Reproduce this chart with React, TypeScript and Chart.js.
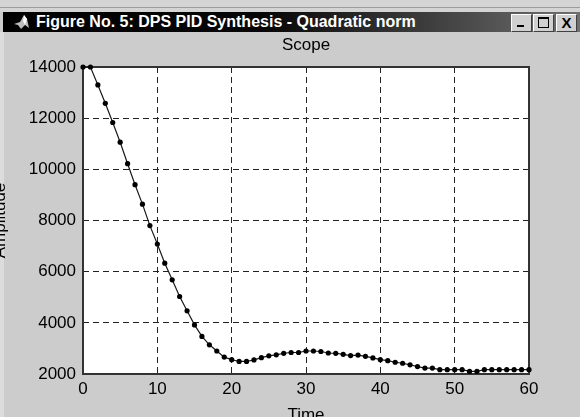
import React, { useEffect, useRef } from 'react';
import { Chart, registerables } from 'chart.js';

Chart.register(...registerables);

const windowTitle = 'Figure No. 5: DPS PID Synthesis - Quadratic norm';
const chartTitle = 'Scope';
const xAxisLabel = 'Time';
const yAxisLabel = 'Amplitude';

const timeValues = [
  0, 1, 2, 3, 4, 5, 6, 7, 8, 9,
  10, 11, 12, 13, 14, 15, 16, 17, 18, 19,
  20, 21, 22, 23, 24, 25, 26, 27, 28, 29,
  30, 31, 32, 33, 34, 35, 36, 37, 38, 39,
  40, 41, 42, 43, 44, 45, 46, 47, 48, 49,
  50, 51, 52, 53, 54, 55, 56, 57, 58, 59, 60,
];

const amplitudeValues = [
  14000, 14000, 13300, 12580, 11830, 11060, 10220, 9400, 8640, 7800,
  7080, 6330, 5680, 5030, 4470, 3920, 3470, 3140, 2900, 2660,
  2560, 2490, 2490, 2550, 2640, 2710, 2750, 2810, 2840, 2840,
  2900, 2900, 2880, 2820, 2810, 2770, 2720, 2740, 2690, 2630,
  2560, 2520, 2460, 2420, 2360, 2290, 2230, 2230, 2170, 2170,
  2170, 2170, 2100, 2100, 2170, 2170, 2170, 2170, 2170, 2170, 2170,
];

const xTickValues = [0, 10, 20, 30, 40, 50, 60];
const yTickValues = [2000, 4000, 6000, 8000, 10000, 12000, 14000];

const FONT = '"Liberation Sans", Arial, sans-serif';

const decorPlugin = {
  id: 'decor',
  beforeDraw(chart: any) {
    const { ctx, chartArea: a } = chart;
    ctx.save();
    ctx.fillStyle = '#ffffff';
    ctx.fillRect(a.left, a.top, a.right - a.left, a.bottom - a.top);
    ctx.restore();
  },
  beforeDatasetsDraw(chart: any) {
    const { ctx, chartArea: a } = chart;
    ctx.save();
    ctx.strokeStyle = '#333333';
    ctx.lineWidth = 2;
    ctx.strokeRect(a.left, a.top, a.right - a.left, a.bottom - a.top);
    ctx.restore();
  },
  afterDraw(chart: any) {
    const { ctx, chartArea: a } = chart;
    ctx.save();
    ctx.fillStyle = '#000000';
    ctx.font = `17px ${FONT}`;
    ctx.textAlign = 'center';
    ctx.textBaseline = 'middle';
    ctx.fillText(chartTitle, (a.left + a.right) / 2, a.top - 22);
    ctx.textBaseline = 'top';
    ctx.fillText(xAxisLabel, (a.left + a.right) / 2, a.bottom + 33);
    ctx.translate(5, (a.top + a.bottom) / 2);
    ctx.rotate(-Math.PI / 2);
    ctx.textBaseline = 'alphabetic';
    ctx.fillText(yAxisLabel, 0, 0);
    ctx.restore();
  },
};

function ScopeChart() {
  const ref = useRef<HTMLCanvasElement | null>(null);
  useEffect(() => {
    if (!ref.current) return;
    const chart = new Chart(ref.current, {
      type: 'line',
      data: {
        datasets: [
          {
            data: timeValues.map((t, i) => ({ x: t, y: amplitudeValues[i] })),
            borderColor: '#1a1a1a',
            borderWidth: 1.2,
            pointRadius: 2.6,
            pointBackgroundColor: '#000000',
            pointBorderColor: '#000000',
            pointBorderWidth: 0,
            tension: 0,
            fill: false,
            clip: false as any,
          },
        ],
      },
      options: {
        animation: false,
        responsive: false,
        devicePixelRatio: 1,
        events: [],
        layout: { padding: { top: 67, right: 51, bottom: 0, left: 0 } },
        plugins: {
          legend: { display: false },
          tooltip: { enabled: false },
          title: { display: false },
        },
        scales: {
          x: {
            type: 'linear',
            min: 0,
            max: 60,
            afterBuildTicks: (s: any) => {
              s.ticks = xTickValues.map((v) => ({ value: v }));
            },
            afterFit: (s: any) => {
              s.height = 43;
            },
            grid: { color: '#222222', lineWidth: 1, drawTicks: false },
            border: { display: false, dash: [6, 4] },
            ticks: {
              color: '#000000',
              font: { family: FONT, size: 17 },
              padding: 5,
              autoSkip: false,
              maxRotation: 0,
              callback: (v: any) => String(v),
            },
          },
          y: {
            type: 'linear',
            min: 2000,
            max: 14000,
            afterBuildTicks: (s: any) => {
              s.ticks = yTickValues.map((v) => ({ value: v }));
            },
            afterFit: (s: any) => {
              s.width = 83;
            },
            grid: { color: '#222222', lineWidth: 1, drawTicks: false },
            border: { display: false, dash: [6, 4] },
            ticks: {
              color: '#000000',
              font: { family: FONT, size: 17 },
              padding: 7,
              autoSkip: false,
              callback: (v: any) => String(v),
            },
          },
        },
      },
      plugins: [decorPlugin],
    } as any);
    return () => chart.destroy();
  }, []);
  return (
    <canvas
      ref={ref}
      width={580}
      height={417}
      style={{ position: 'absolute', left: 0, top: 0, width: 580, height: 417 }}
    />
  );
}

const btnStyle: React.CSSProperties = {
  position: 'absolute',
  top: 2,
  width: 19,
  height: 16,
  background: '#d0d0d0',
  borderTop: '1px solid #ffffff',
  borderLeft: '1px solid #ffffff',
  borderRight: '1px solid #404040',
  borderBottom: '1px solid #404040',
};

export default function App() {
  return (
    <div
      style={{
        position: 'fixed',
        left: 0,
        top: 0,
        width: 580,
        height: 417,
        background: '#cccccc',
        overflow: 'hidden',
      }}
    >
      <div style={{ position: 'absolute', left: 0, top: 0, width: 580, height: 12, background: '#d4d4d4' }} />
      <div style={{ position: 'absolute', left: 0, top: 7, width: 580, height: 1, background: '#9c9c9c' }} />
      <div style={{ position: 'absolute', left: 0, top: 32, width: 4, height: 385, background: '#dcdcdc' }} />
      <ScopeChart />
      <div
        style={{
          position: 'absolute',
          left: 3,
          top: 12,
          width: 577,
          height: 20,
          background: 'linear-gradient(to right, #000000 0%, #060606 45%, #707070 100%)',
        }}
      >
        <svg width="20" height="18" style={{ position: 'absolute', left: 9, top: 1 }}>
          <path d="M2 11 L8 9 L12 2 L15 6 L17 15 L13 12 L9 16 L6 12 Z" fill="#bdbdbd" />
          <path d="M12 2 L15 6 L13 12 L11 8 Z" fill="#ffffff" />
        </svg>
        <div
          style={{
            position: 'absolute',
            left: 33,
            top: 0,
            height: 20,
            lineHeight: '20px',
            color: '#ffffff',
            fontFamily: FONT,
            fontWeight: 'bold',
            fontSize: 16,
            whiteSpace: 'nowrap',
          }}
        >
          {windowTitle}
        </div>
        <div style={{ ...btnStyle, left: 508 }}>
          <div style={{ position: 'absolute', left: 5, top: 10, width: 7, height: 2, background: '#000' }} />
        </div>
        <div style={{ ...btnStyle, left: 530 }}>
          <div
            style={{
              position: 'absolute',
              left: 4,
              top: 2,
              width: 9,
              height: 8,
              borderTop: '2px solid #000',
              borderLeft: '1px solid #000',
              borderRight: '1px solid #000',
              borderBottom: '1px solid #000',
            }}
          />
        </div>
        <div style={{ ...btnStyle, left: 553 }}>
          <div
            style={{
              position: 'absolute',
              left: 0,
              top: 0,
              width: 19,
              height: 16,
              lineHeight: '16px',
              textAlign: 'center',
              fontFamily: FONT,
              fontWeight: 'bold',
              fontSize: 15,
              color: '#000',
            }}
          >
            X
          </div>
        </div>
      </div>
    </div>
  );
}
